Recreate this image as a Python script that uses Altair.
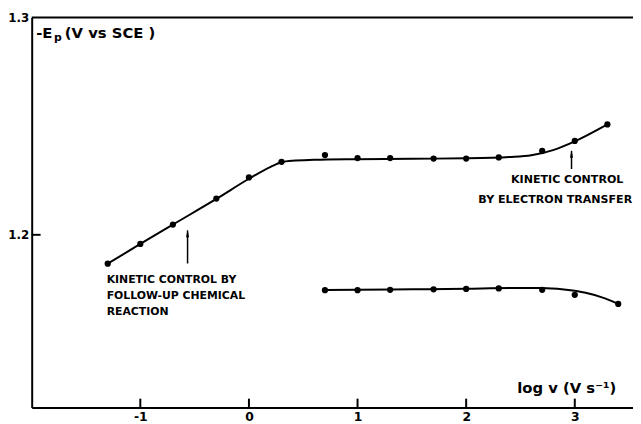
import altair as alt
import pandas as pd

# measured data points
upper_x = [-1.3, -1.0, -0.7, -0.3, 0.0, 0.3, 0.7, 1.0, 1.3, 1.7, 2.0, 2.3, 2.7, 3.0, 3.3]
upper_y = [1.1867, 1.1958, 1.2047, 1.2167, 1.2264, 1.2336, 1.2367, 1.2353, 1.2353,
           1.2351, 1.2351, 1.2356, 1.2386, 1.2432, 1.2508]
lower_x = [0.7, 1.0, 1.3, 1.7, 2.0, 2.3, 2.7, 3.0, 3.4]
lower_y = [1.1745, 1.1745, 1.1747, 1.1749, 1.1751, 1.1753, 1.1747, 1.1724, 1.1682]

# fitted curves (as drawn)
upper_fit_x = [-1.3, -1.0, -0.7, -0.3, 0.0, 0.2, 0.3, 0.4, 0.6, 1.0, 1.5, 2.0, 2.4, 2.6, 2.8, 3.0, 3.3]
upper_fit_y = [1.1867, 1.1958, 1.2047, 1.2165, 1.2258, 1.2313, 1.2334, 1.2341, 1.2345, 1.2348,
               1.2350, 1.2352, 1.2358, 1.2366, 1.2390, 1.2430, 1.2508]
lower_fit_x = [0.7, 1.0, 1.5, 2.0, 2.4, 2.7, 2.9, 3.1, 3.25, 3.4]
lower_fit_y = [1.1746, 1.1747, 1.1749, 1.1752, 1.1755, 1.1755, 1.1748, 1.1733, 1.1712, 1.1682]

x_ticks = [-1, 0, 1, 2, 3]
y_ticks = [1.2, 1.3]

note_text = ["KINETIC CONTROL BY", "FOLLOW-UP CHEMICAL", "REACTION",
             "KINETIC CONTROL", "BY ELECTRON TRANSFER"]
note_x = [-1.31, -1.31, -1.31, 2.93, 2.82]
note_y = [1.1791, 1.1716, 1.1645, 1.2250, 1.2159]
note_align = ["left", "left", "left", "center", "center"]

arrow_x = [-0.565, 2.97]
arrow_y0 = [1.1868, 1.2303]
arrow_y1 = [1.2020, 1.2386]

W, H = 609, 395
XDOM = [-2.0, 3.536]
YDOM = [1.1205, 1.3]
FONT = "DejaVu Sans"

xs = alt.Scale(domain=XDOM, nice=False, zero=False)
ys = alt.Scale(domain=YDOM, nice=False, zero=False)

pts = pd.DataFrame({"x": upper_x + lower_x, "y": upper_y + lower_y,
                    "s": ["u"] * len(upper_x) + ["l"] * len(lower_x)})
fits = pd.DataFrame({"x": upper_fit_x + lower_fit_x, "y": upper_fit_y + lower_fit_y,
                     "s": ["u"] * len(upper_fit_x) + ["l"] * len(lower_fit_x)})

X = alt.X("x:Q", scale=xs, axis=alt.Axis(values=x_ticks, ticks=False, grid=False, title=None,
                                          domainColor="black", domainWidth=2, labelPadding=3,
                                          labelFont=FONT, labelFontSize=12.5, labelFontWeight="bold",
                                          labelColor="black", format="d",
                                          labelExpr="replace(datum.label, '\u2212', '-')"))
Y = alt.Y("y:Q", scale=ys, axis=alt.Axis(values=y_ticks, ticks=False, grid=False, title=None,
                                          domainColor="black", domainWidth=2, labelPadding=3,
                                          labelFont=FONT, labelFontSize=12, labelFontWeight="bold",
                                          labelColor="black", format=".1f", labelFlush=False))

lines = alt.Chart(fits).mark_line(color="black", strokeWidth=2, interpolate="monotone").encode(
    x=X, y=Y, detail="s:N")
points = alt.Chart(pts).mark_circle(color="black", opacity=1, size=40).encode(
    x=alt.X("x:Q", scale=xs), y=alt.Y("y:Q", scale=ys))

xt = alt.Chart(pd.DataFrame({"x": x_ticks})).mark_rule(color="black", strokeWidth=2).encode(
    x=alt.X("x:Q", scale=xs), y=alt.value(H), y2=alt.value(H - 9))
yt = alt.Chart(pd.DataFrame({"y": [y_ticks[0]]})).mark_rule(color="black", strokeWidth=2).encode(
    y=alt.Y("y:Q", scale=ys), x=alt.value(0), x2=alt.value(9))
top = alt.Chart(pd.DataFrame({"y": [YDOM[1]]})).mark_rule(color="black", strokeWidth=2).encode(
    y=alt.Y("y:Q", scale=ys), x=alt.value(0), x2=alt.value(W))

notes_df = pd.DataFrame({"t": note_text, "x": note_x, "y": note_y, "a": note_align})
notes_l = alt.Chart(notes_df[notes_df.a == "left"]).mark_text(
    font=FONT, fontSize=11, fontWeight="bold", align="left", baseline="middle", color="black").encode(
    x=alt.X("x:Q", scale=xs), y=alt.Y("y:Q", scale=ys), text="t:N")
notes_c = alt.Chart(notes_df[notes_df.a == "center"]).mark_text(
    font=FONT, fontSize=11.2, fontWeight="bold", align="center", baseline="middle", color="black").encode(
    x=alt.X("x:Q", scale=xs), y=alt.Y("y:Q", scale=ys), text="t:N")

arr_df = pd.DataFrame({"x": arrow_x, "y0": arrow_y0, "y1": arrow_y1})
arr_line = alt.Chart(arr_df).mark_rule(color="black", strokeWidth=1.5).encode(
    x=alt.X("x:Q", scale=xs), y=alt.Y("y0:Q", scale=ys), y2="y1:Q")
arr_head = alt.Chart(arr_df).mark_point(
    shape="M0,-1L0.4,1L-0.4,1Z", filled=True, color="black", opacity=1, size=60, yOffset=3).encode(
    x=alt.X("x:Q", scale=xs), y=alt.Y("y1:Q", scale=ys))

title_parts = ["-E", "p", "(V vs SCE )", "log v (V s\u207b\u00b9)"]
title_x = [-1.959, -1.795, -1.695, 2.470]
title_y = [1.2927, 1.2905, 1.2927, 1.1296]
title_size = [15, 11, 15, 15]
tdf = pd.DataFrame({"t": title_parts, "x": title_x, "y": title_y, "fs": title_size})
titles = alt.Chart(tdf).mark_text(font=FONT, fontWeight="bold", align="left", baseline="middle",
                                  color="black").encode(
    x=alt.X("x:Q", scale=xs), y=alt.Y("y:Q", scale=ys), text="t:N",
    size=alt.Size("fs:Q", scale=None, legend=None))

chart = alt.layer(lines, points, xt, yt, top, notes_l, notes_c, arr_line, arr_head, titles).properties(
    width=W, height=H, autosize=alt.AutoSizeParams(type="none"),
    padding={"left": 24, "top": 7, "right": 0, "bottom": 14},
    background="white"
).configure_view(stroke=None)

chart.save("out.html", embed_options={"renderer": "svg", "actions": False})
